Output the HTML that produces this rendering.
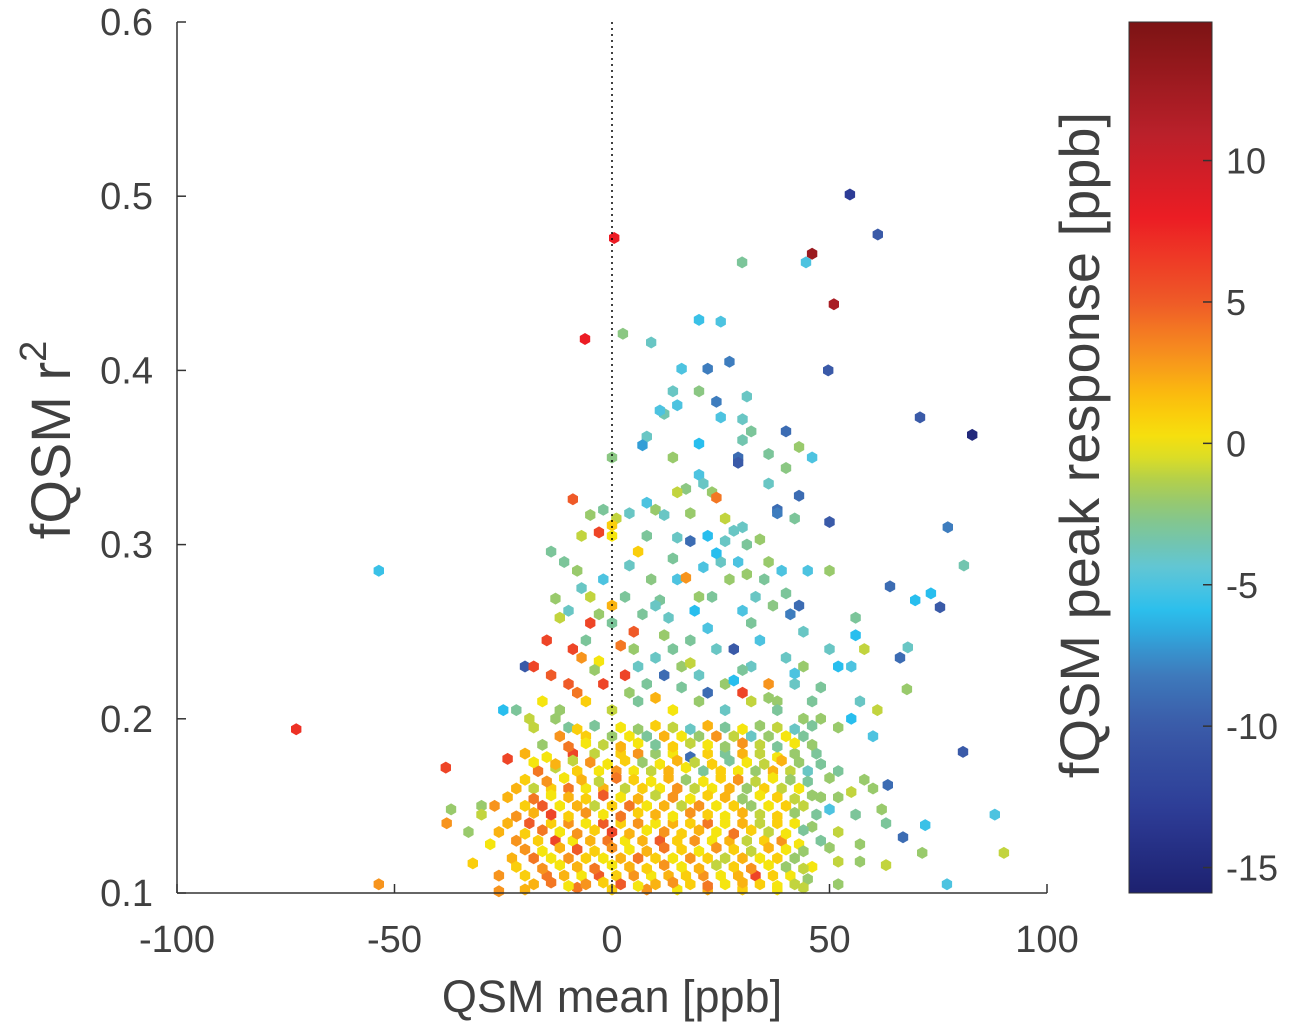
<!DOCTYPE html>
<html><head><meta charset="utf-8"><style>
html,body{margin:0;padding:0;background:#fff;}
svg text{font-family:"Liberation Sans",sans-serif;fill:#404040;}
</style></head><body>
<svg id="chart" width="1294" height="1025" xmlns="http://www.w3.org/2000/svg">
<defs><linearGradient id="cbgrad" x1="0" y1="1" x2="0" y2="0"></linearGradient></defs>
<g id="points"></g>
<line x1="612" y1="22" x2="612" y2="893" stroke="#000" stroke-width="1.5" stroke-dasharray="2,4"/>
<g id="axes"></g>
<text x="612" y="1012" font-size="45" text-anchor="middle">QSM mean [ppb]</text>
<text transform="translate(70,440) rotate(-90)" font-size="56" text-anchor="middle">fQSM r<tspan dy="-24" font-size="38">2</tspan></text>
<rect x="1129" y="22" width="83" height="871" fill="url(#cbgrad)" stroke="#333" stroke-width="1"/>
<g id="cbticks"></g>
<text transform="translate(1099,445) rotate(-90)" font-size="56" text-anchor="middle">fQSM peak response [ppb]</text>
</svg>
<script>
const xTicks=[-100,-50,0,50,100];
const yTicks=[0.1,0.2,0.3,0.4,0.5,0.6];
const cTicks=[10,5,0,-5,-10,-15];
const ptX=[-72.6,-53.6,-53.6,-38.2,0.5,-6.2,46,44.6,51,54.7,61.1,29.9,82.8,70.8,49.7,77.2,80.9,90.1,88,77,80.7,75.4,73.3,69.7,63.9,68,66.2,67.8,71.3,72,66.9,63.4,
2.5,9,20,25,22,16,27,14,20,31,15,24,12,11,30,25,40,30,32,8,7,20,43,46,29,29,36,40,14,0,17,20,21,36,23,24,15,43,10,8,1,-2,4,12,26,38,42,50,38,30,-5,-9,-7,-3,0,0,15,18,22,26,31,34,6,-14,-11,-2,-13,-10,-7,-5,-3,0,3,5,7,9,11,13,15,17,19,21,23,25,27,29,31,33,35,37,39,41,43,45,50,56,56,58,50,52,55,48,57,61,55,60,-20,-18,-15,-9,-10,-7,-5,-3,-2,3,5,8,10,12,14,16,18,20,22,24,26,28,30,32,34,36,38,40,42,44,46,48,-25,-22,-19,-16,-13,-10,
-12,-6,0,4,8,12,16,20,24,28,32,36,40,44,
-20,-15,-9,-4,2,6,10,14,18,22,26,30,34,38,42,47,
-24,-17,-13,-8,-3,1,5,9,13,17,21,25,29,33,37,41,45,52,58,
-30,-22,-18,-14,-10,-6,-2,3,7,11,15,19,23,27,31,35,39,43,48,55,60,
-37,-27,-20,-16,-12,-8,-4,0,4,8,12,16,20,24,28,32,36,40,44,50,56,62,
-38,-33,-24,-19,-14,-10,-6,-2,2,6,10,14,18,22,26,30,34,38,42,46,52,63,
-28,-22,-17,-13,-9,-5,-1,3,7,11,15,19,23,27,31,35,39,43,48,57,
-32,-23,-18,-14,-10,-6,-2,2,6,10,14,18,22,26,30,34,38,42,46,52,57,63,
-26,-20,-15,-11,-7,-3,1,5,9,13,17,21,25,29,33,37,41,45,52,
-26,-20,-8,0,8,15,22,30,38,44,
-18,-14,-10,-6,-2,2,6,10,14,18,22,26,30,34,38,42,
-22,-16,-12,-8,-4,0,4,8,12,16,20,24,28,32,36,40,44,
-20,-16,-12,-8,-4,0,4,8,12,16,20,24,28,32,36,40,44,50,
-26,-20,-16,-12,-8,-4,0,4,8,12,16,20,24,28,32,36,40,44,
-30,-22,-18,-14,-10,-6,-2,2,6,10,14,18,22,26,30,34,38,42,47,
-24,-18,-14,-10,-6,-2,2,6,10,14,18,22,26,30,34,38,42,46,52,
-20,-15,-11,-7,-3,1,5,9,13,17,21,25,29,33,37,41,45,50,
-18,-13,-9,-5,-1,3,7,11,15,19,23,27,31,35,39,43,48,
-16,-10,-6,-2,2,6,10,14,18,22,26,30,34,38,42,46,
-18,-8,-4,2,6,10,14,18,22,26,30,34,38,42,46,52,
-12,-6,0,6,14,20,26,32,38,44,-8,4,10,16,28,36,-14,-4,6,18,30,42,-6,2,12,22,32,44,-12,0,10,20,30,40,-8,4,14,24,36,8,28,18];
const ptY=[0.194,0.105,0.285,0.172,0.476,0.418,0.467,0.462,0.438,0.501,0.478,0.462,0.363,0.373,0.400,0.31,0.288,0.123,0.145,0.105,0.181,0.264,0.272,0.268,0.276,0.241,0.235,0.217,0.123,0.139,0.132,0.162,
0.421,0.416,0.429,0.428,0.401,0.401,0.405,0.388,0.388,0.385,0.38,0.382,0.375,0.377,0.372,0.373,0.365,0.36,0.365,0.362,0.357,0.358,0.356,0.35,0.35,0.347,0.352,0.344,0.35,0.35,0.332,0.34,0.335,0.335,0.33,0.327,0.33,0.328,0.32,0.324,0.315,0.32,0.318,0.317,0.315,0.32,0.315,0.313,0.318,0.31,0.317,0.326,0.305,0.307,0.311,0.305,0.304,0.302,0.305,0.302,0.30,0.303,0.296,0.296,0.29,0.28,0.269,0.262,0.275,0.27,0.26,0.265,0.27,0.25,0.26,0.28,0.268,0.258,0.28,0.281,0.262,0.287,0.27,0.29,0.28,0.29,0.283,0.27,0.28,0.265,0.285,0.26,0.265,0.285,0.285,0.258,0.248,0.24,0.24,0.23,0.23,0.218,0.21,0.205,0.2,0.19,0.23,0.23,0.245,0.24,0.22,0.235,0.255,0.233,0.22,0.225,0.24,0.22,0.235,0.225,0.24,0.23,0.245,0.225,0.215,0.24,0.22,0.24,0.215,0.23,0.245,0.22,0.21,0.235,0.22,0.23,0.21,0.2,0.205,0.205,0.2,0.21,0.2,0.195,
0.19,0.19,0.19,0.19,0.19,0.19,0.19,0.19,0.19,0.19,0.19,0.19,0.19,0.19,
0.18,0.178,0.18,0.18,0.18,0.18,0.18,0.18,0.178,0.18,0.18,0.18,0.18,0.178,0.18,0.18,
0.177,0.17,0.172,0.17,0.17,0.17,0.17,0.17,0.17,0.172,0.17,0.17,0.17,0.17,0.17,0.17,0.17,0.17,0.165,
0.15,0.16,0.16,0.16,0.16,0.16,0.16,0.16,0.16,0.16,0.16,0.16,0.16,0.16,0.16,0.16,0.16,0.16,0.155,0.158,0.16,
0.148,0.15,0.15,0.15,0.15,0.15,0.15,0.15,0.15,0.15,0.15,0.15,0.15,0.15,0.15,0.15,0.15,0.15,0.15,0.148,0.145,0.148,
0.14,0.135,0.14,0.14,0.14,0.14,0.14,0.14,0.14,0.14,0.14,0.14,0.14,0.14,0.14,0.14,0.14,0.14,0.14,0.138,0.135,0.14,
0.128,0.13,0.13,0.13,0.13,0.13,0.13,0.13,0.13,0.13,0.13,0.13,0.13,0.13,0.13,0.13,0.13,0.128,0.13,0.128,
0.117,0.12,0.12,0.12,0.12,0.12,0.12,0.12,0.12,0.12,0.12,0.12,0.12,0.12,0.12,0.12,0.12,0.12,0.115,0.118,0.118,0.116,
0.11,0.11,0.11,0.11,0.11,0.11,0.11,0.11,0.11,0.11,0.11,0.11,0.11,0.11,0.11,0.11,0.11,0.108,0.105,
0.101,0.102,0.103,0.102,0.102,0.102,0.102,0.102,0.102,0.103,
0.105,0.106,0.104,0.105,0.106,0.105,0.104,0.105,0.106,0.105,0.104,0.105,0.106,0.105,0.104,0.105,
0.115,0.114,0.116,0.115,0.114,0.116,0.115,0.114,0.116,0.115,0.114,0.116,0.115,0.114,0.116,0.115,0.114,
0.125,0.124,0.126,0.125,0.124,0.126,0.125,0.124,0.126,0.125,0.124,0.126,0.125,0.124,0.126,0.125,0.124,0.126,
0.135,0.134,0.136,0.135,0.134,0.136,0.135,0.134,0.136,0.135,0.134,0.136,0.135,0.134,0.136,0.135,0.134,0.136,
0.145,0.144,0.146,0.145,0.144,0.146,0.145,0.144,0.146,0.145,0.144,0.146,0.145,0.144,0.146,0.145,0.144,0.146,0.145,
0.155,0.154,0.156,0.155,0.154,0.156,0.155,0.154,0.156,0.155,0.154,0.156,0.155,0.154,0.156,0.155,0.154,0.156,0.155,
0.165,0.164,0.166,0.165,0.164,0.166,0.165,0.164,0.166,0.165,0.164,0.166,0.165,0.164,0.166,0.165,0.164,0.166,
0.175,0.174,0.176,0.175,0.174,0.176,0.175,0.174,0.176,0.175,0.174,0.176,0.175,0.174,0.176,0.175,0.174,
0.185,0.184,0.186,0.185,0.184,0.186,0.185,0.184,0.186,0.185,0.184,0.186,0.185,0.184,0.186,0.185,
0.195,0.194,0.196,0.195,0.194,0.196,0.195,0.194,0.196,0.195,0.194,0.196,0.195,0.194,0.196,0.195,
0.205,0.21,0.205,0.21,0.205,0.21,0.205,0.21,0.205,0.2,0.215,0.215,0.212,0.218,0.222,0.212,0.225,0.228,0.23,0.232,0.228,0.226,0.245,0.242,0.248,0.252,0.255,0.25,0.258,0.255,0.265,0.27,0.262,0.272,0.285,0.288,0.292,0.295,0.29,0.305,0.308,0.318];
const ptC=[7,3,-5.5,6,8,8,13,-5,12,-13,-10,-3,-15,-10,-10,-8,-3.5,-1,-5,-5,-10,-10,-6,-6,-9,-4,-9,-2,-2,-5.5,-9,-9,
-2.5,-4,-5.5,-5,-8,-5,-8,-4,-2.5,-4,-5,-8,-3.5,-5,-4,-5,-9,-3.5,-3,-4,-7,-6,-2,-5,-9,-10,-3,-2.5,-2,-2.5,-2.5,-5,-4,-4,-2,4,-1,-9,-2,-5,-1,-3,-4,-4,-1,-9,-3,-10,-8,-4,-2,5,-1,6,1,0,-4,-9,-6,-4,-3,-2,1,-3,-3,-5,-2,-4,-4,-1,-2,2,-3,5,-3,-2.5,-3,-4,-5,3,-6,-5,-3,-4,-2,-5,-2,-4,-3,-2.5,-5,-8,-9,-5,-2,-3,-6,-1,-4,-6,-5,-3,-4,-1,-6,-5,-10,6,6,6,5,3,6,0,6,6,-2,-3,-4,-9,-3,-2,-3,-4,-9,-4,-2,-10,6,-4,-5,3,-2,-4,-4,-2,-3,-2,-6,-3,-1,0,-2,-3,
3,1,-2,0,-3,2,0,-2,3,-1,-4,-2,0,-3,
2,0,6,-1,1,3,-2,0,-9,1,-3,2,-1,0,-2,-3,
6,4,-1,1,0,3,0,-1,2,0,-3,1,0,-2,2,-1,-4,-3,-2,
-2,2,-1,1,4,0,2,-1,1,0,3,-1,0,2,-2,1,-1,0,-2,-1,-2,
-2,3,1,5,0,2,-1,1,4,0,2,-1,3,0,1,-2,0,1,-1,-5,-3,-2,
3,-2,2,5,1,3,0,5,1,3,0,2,1,4,0,2,-1,1,0,-2,-1,-3,
0,3,1,6,0,2,4,0,2,5,1,3,0,2,-1,1,3,0,-3,-2,
1,2,4,0,3,1,0,2,4,1,0,3,1,-1,2,0,1,-2,0,-1,-2,-1,
3,1,4,2,0,5,1,3,0,2,1,3,0,2,6,1,0,-2,-2,
3,2,4,1,3,0,2,1,0,-1,
2,4,0,3,1,5,0,2,3,1,4,0,2,1,0,-1,
1,3,0,2,4,0,2,1,3,0,2,-1,1,3,0,-2,-1,
3,0,2,5,1,3,0,2,4,1,0,3,1,-1,2,0,-2,-2,
2,1,4,0,3,1,6,2,0,3,1,2,0,4,1,-1,0,-3,
-1,3,2,6,1,3,0,4,1,2,0,3,1,0,2,-1,1,-2,-3,
2,4,0,2,1,5,0,2,-1,3,0,1,2,-2,0,1,-1,-2,-2,
1,3,0,2,-1,4,1,0,2,-2,0,1,3,-1,0,-2,-3,-2,
0,2,-1,3,0,1,-2,0,2,-1,1,-3,0,-1,2,-2,-3,
-2,4,0,-1,2,0,-3,1,-1,0,-2,3,-1,-3,0,-2,
-1,1,-3,0,-2,1,-1,-4,2,-3,0,-2,-1,-4,-3,-2,
-2,1,-1,-3,0,-2,-4,-1,-3,-2,4,-2,2,-3,-6,-2,5,-2,-4,-1,-3,-5,-3,4,-2,-5,-3,-4,-1,-3,-4,-2,-5,-3,-2,-4,-3,-6,-2,-3,-4,-2];

const X0=177,X1=1047,Y0=893,Y1=22;
function sx(v){return X0+(v+100)/200*(X1-X0);}
function sy(v){return Y0-(v-0.1)/0.5*(Y0-Y1);}
const cStops=[[-16,[28,32,110]],[-13,[45,60,150]],[-10,[58,90,168]],[-8,[62,125,190]],[-6,[40,190,238]],[-4.5,[95,198,217]],[-3,[124,197,154]],[-1.5,[168,204,85]],[0,[245,229,15]],[1.5,[252,195,11]],[3,[247,148,29]],[5,[239,90,40]],[8,[236,28,36]],[11,[185,32,42]],[15,[122,19,19]]];
function cmap(v){
  if(v<=cStops[0][0])return 'rgb('+cStops[0][1]+')';
  for(let i=1;i<cStops.length;i++){
    if(v<=cStops[i][0]){const a=cStops[i-1],b=cStops[i];const t=(v-a[0])/(b[0]-a[0]);
      const c=a[1].map((q,k)=>Math.round(q+(b[1][k]-q)*t));return 'rgb('+c+')';}
  }
  return 'rgb('+cStops[cStops.length-1][1]+')';
}
const NS='http://www.w3.org/2000/svg';
const pg=document.getElementById('points');
function hex(cx,cy,r){let p=[];for(let k=0;k<6;k++){const a=Math.PI/3*k+Math.PI/6;p.push((cx+r*Math.cos(a)).toFixed(1)+','+(cy+r*Math.sin(a)).toFixed(1));}return p.join(' ');}
const n=Math.min(ptX.length,ptY.length,ptC.length);
for(let i=0;i<n;i++){
  const h=document.createElementNS(NS,'polygon');
  h.setAttribute('points',hex(sx(ptX[i]),sy(ptY[i]),6));
  h.setAttribute('fill',cmap(ptC[i]));
  
  
  pg.appendChild(h);
}
const ax=document.getElementById('axes');
function el(tag,attrs,parent,text){const e=document.createElementNS(NS,tag);for(const k in attrs)e.setAttribute(k,attrs[k]);if(text!==undefined)e.textContent=text;parent.appendChild(e);return e;}
const xl=el('line',{x1:X0,y1:Y0,x2:X1,y2:Y0,stroke:'#333','stroke-width':1.5},ax);


const yl=el('line',{x1:X0,y1:Y0,x2:X0,y2:Y1,stroke:'#333','stroke-width':1.5},ax);


xTicks.forEach(t=>{
  el('line',{x1:sx(t),y1:Y0,x2:sx(t),y2:Y0-9,stroke:'#333','stroke-width':1.5},ax);
  const tx=el('text',{x:sx(t),y:952,'font-size':38,'text-anchor':'middle'},ax,String(t));
  
  
});
yTicks.forEach(t=>{
  el('line',{x1:X0,y1:sy(t),x2:X0+9,y2:sy(t),stroke:'#333','stroke-width':1.5},ax);
  const tx=el('text',{x:153,y:sy(t)+13,'font-size':38,'text-anchor':'end'},ax,t.toFixed(1));
  
  
});
const CB0=893,CB1=22,CMIN=-15.9,CMAX=14.9;
function cy(v){return CB0-(v-CMIN)/(CMAX-CMIN)*(CB0-CB1);}
const grad=document.getElementById('cbgrad');
for(let k=0;k<=40;k++){const v=CMIN+(CMAX-CMIN)*k/40;el('stop',{offset:(k/40*100)+'%','stop-color':cmap(v)},grad);}
const cb=document.getElementById('cbticks');
cTicks.forEach(t=>{
  el('line',{x1:1212,y1:cy(t),x2:1203,y2:cy(t),stroke:'#333','stroke-width':1.5},cb);
  const tx=el('text',{x:1226,y:cy(t)+13,'font-size':36},cb,String(t));
  
  
});
</script>
</body></html>
